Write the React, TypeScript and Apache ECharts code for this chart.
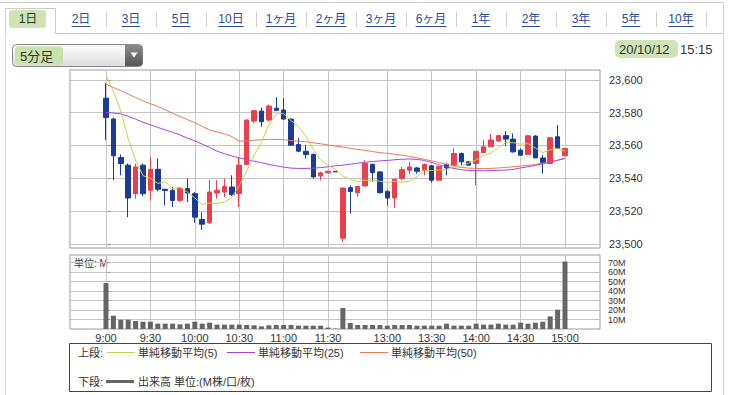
import React, { useEffect, useRef } from 'react';
import * as echarts from 'echarts';

// ---------- data ----------
const xTickIdx = [0, 6, 12, 18, 24, 30, 38, 44, 50, 56, 62];
const xTickLabels = ['9:00', '9:30', '10:00', '10:30', '11:00', '11:30', '13:00', '13:30', '14:00', '14:30', '15:00'];

const opens = [
  23588.8, 23576.1, 23552.7, 23548.0, 23530.6, 23548.0, 23532.7, 23545.5, 23533.3, 23532.7,
  23526.5, 23533.7, 23530.6, 23514.9, 23512.9, 23531.0, 23531.6, 23534.7, 23530.6, 23548.4,
  23574.9, 23581.0, 23575.5, 23582.7, 23581.6, 23576.1, 23560.6, 23556.5, 23554.5, 23541.4,
  23543.3, 23544.2, 23503.5, 23534.3, 23531.2, 23535.3, 23548.4, 23543.9, 23532.0, 23528.0,
  23539.8, 23544.9, 23546.3, 23544.9, 23547.6, 23538.8, 23548.4, 23548.0, 23555.1, 23550.0,
  23549.0, 23555.7, 23559.2, 23562.7, 23566.0, 23563.9, 23557.1, 23554.5, 23565.7, 23552.4,
  23549.0, 23565.3, 23553.7,
];
const closes = [
  23577.0, 23553.7, 23549.0, 23528.0, 23546.9, 23530.6, 23545.5, 23533.3, 23532.5, 23526.5,
  23534.0, 23531.0, 23516.3, 23512.0, 23531.6, 23532.7, 23535.0, 23530.0, 23548.0, 23575.5,
  23581.2, 23574.5, 23584.0, 23581.4, 23576.1, 23560.2, 23556.5, 23554.5, 23540.8, 23543.3,
  23544.3, 23543.9, 23534.1, 23532.0, 23535.1, 23549.0, 23543.5, 23531.2, 23528.0, 23539.4,
  23545.3, 23546.9, 23544.3, 23548.4, 23538.8, 23547.3, 23546.3, 23555.1, 23550.0, 23548.0,
  23556.5, 23559.2, 23563.3, 23566.0, 23563.9, 23556.1, 23554.1, 23565.9, 23552.4, 23549.6,
  23564.7, 23558.2, 23558.2,
];
const lows = [
  23563.3, 23538.8, 23541.8, 23516.3, 23527.6, 23529.0, 23526.5, 23532.0, 23523.5, 23522.4,
  23525.5, 23525.5, 23512.9, 23508.6, 23512.2, 23527.6, 23528.6, 23529.2, 23522.4, 23548.0,
  23573.5, 23571.4, 23574.5, 23581.2, 23575.5, 23560.0, 23556.1, 23552.0, 23539.8, 23538.8,
  23543.0, 23543.9, 23501.0, 23518.4, 23528.6, 23535.3, 23537.8, 23530.6, 23523.5, 23521.8,
  23538.8, 23542.6, 23542.8, 23541.8, 23537.3, 23538.8, 23541.8, 23548.0, 23548.0, 23547.6,
  23535.7, 23555.7, 23559.2, 23562.2, 23559.8, 23555.7, 23553.7, 23554.5, 23552.4, 23542.9,
  23549.0, 23557.8, 23553.7,
];
const highs = [
  23598.0, 23577.0, 23554.5, 23549.0, 23549.0, 23549.0, 23553.0, 23552.0, 23533.6, 23534.7,
  23534.7, 23539.8, 23531.6, 23519.4, 23538.8, 23538.8, 23539.8, 23541.8, 23553.0, 23576.0,
  23581.6, 23583.0, 23585.0, 23589.4, 23588.8, 23576.5, 23564.7, 23560.2, 23555.1, 23543.9,
  23544.5, 23544.2, 23534.1, 23535.7, 23535.1, 23551.0, 23549.0, 23544.3, 23532.7, 23539.8,
  23547.0, 23550.0, 23547.0, 23549.0, 23548.0, 23547.3, 23549.0, 23558.2, 23555.7, 23550.4,
  23556.5, 23563.3, 23567.0, 23566.3, 23568.8, 23567.3, 23558.2, 23566.3, 23566.3, 23554.1,
  23564.7, 23572.4, 23558.2,
];
const sma5 = [
  23603.0, 23593.0, 23581.0, 23564.0, 23550.9, 23541.6, 23540.0, 23536.9, 23537.8, 23533.7,
  23534.4, 23531.5, 23528.1, 23524.0, 23525.0, 23524.7, 23525.5, 23528.3, 23535.5, 23544.2,
  23553.9, 23561.8, 23572.6, 23579.3, 23579.4, 23575.2, 23571.6, 23565.7, 23557.6, 23551.1,
  23547.9, 23545.4, 23541.3, 23539.5, 23537.9, 23538.8, 23538.7, 23538.2, 23537.4, 23538.2,
  23537.5, 23538.2, 23540.8, 23544.9, 23544.7, 23545.1, 23545.0, 23547.2, 23547.5, 23549.3,
  23551.2, 23553.8, 23555.4, 23558.6, 23561.8, 23561.7, 23560.7, 23561.2, 23558.5, 23555.6,
  23557.3, 23558.2, 23556.6,
];
const sma25 = [
  23580.0, 23579.8, 23579.2, 23577.8, 23576.0, 23574.2, 23572.6, 23571.0, 23569.5, 23568.0,
  23566.4, 23564.5, 23562.8, 23560.8, 23558.8, 23556.5, 23555.0, 23553.6, 23552.4, 23551.4,
  23550.4, 23549.5, 23548.5, 23547.6, 23546.8, 23546.2, 23546.0, 23546.0, 23546.2, 23546.5,
  23547.0, 23547.6, 23548.0, 23548.6, 23549.2, 23549.7, 23550.2, 23550.6, 23550.9, 23551.3,
  23551.6, 23551.8, 23551.5, 23550.9, 23549.6, 23548.2, 23547.0, 23546.0, 23545.2, 23544.8,
  23544.6, 23544.6, 23544.7, 23544.8, 23545.0, 23545.4, 23546.3, 23547.0, 23547.8, 23548.8,
  23549.8, 23551.0, 23552.2,
];
const sma50 = [
  23597.4, 23595.4, 23593.4, 23591.3, 23589.2, 23587.2, 23585.4, 23583.8, 23581.7, 23579.6,
  23577.7, 23575.8, 23573.8, 23571.6, 23569.4, 23568.3, 23567.0, 23565.5, 23562.6, 23562.8,
  23563.2, 23563.5, 23563.7, 23563.7, 23563.5, 23563.0, 23562.6, 23562.3, 23561.6, 23561.0,
  23560.3, 23559.6, 23559.0, 23558.3, 23557.6, 23557.0, 23556.3, 23555.6, 23555.2, 23554.6,
  23554.0, 23553.3, 23552.5, 23551.6, 23550.6, 23549.6, 23548.5, 23547.4, 23546.6, 23546.2,
  23546.0, 23545.9, 23546.0, 23546.3, 23546.6, 23547.0, 23547.4, 23547.9, 23548.5, 23549.2,
  23550.0, 23551.0, 23552.0,
];
const volumes = [
  48.4, 14.0, 9.8, 9.8, 8.4, 7.7, 7.7, 5.6, 5.6, 5.6,
  4.9, 5.6, 7.7, 5.6, 6.7, 4.6, 4.6, 4.6, 4.6, 4.2,
  3.9, 2.8, 3.9, 4.2, 4.2, 4.2, 3.5, 3.5, 3.5, 3.5,
  1.4, 0.4, 22.1, 6.3, 4.2, 4.2, 4.2, 4.2, 3.5, 4.2,
  4.2, 4.2, 3.5, 3.5, 3.5, 3.5, 5.6, 3.5, 3.5, 3.5,
  5.6, 4.6, 4.6, 5.6, 4.6, 4.6, 6.7, 5.6, 6.7, 7.7,
  13.3, 20.4, 71.2,
];
const priceTicks = [23500, 23520, 23540, 23560, 23580, 23600];
const volumeTicks = [10, 20, 30, 40, 50, 60, 70];
const tabLabels = ['1日', '2日', '3日', '5日', '10日', '1ヶ月', '2ヶ月', '3ヶ月', '6ヶ月', '1年', '2年', '3年', '5年', '10年'];

// ---------- styling ----------
const FONT = "'Liberation Sans', 'Noto Sans CJK JP', sans-serif";
const RED = '#e8404f';
const BLUE = '#1b3c95';
const C5 = '#c4d44c';
const C25 = '#a444e4';
const C50 = '#ea7a5c';
const GRIDC = '#c6c6c6';
const XMIN = -4.86;
const XMAX = 66.73;

function measure(t: string, size: number): number {
  const c = document.createElement('canvas').getContext('2d');
  if (!c) return t.length * size * 0.8;
  c.font = `${size}px ${FONT}`;
  return c.measureText(t).width;
}

function buildGraphics(): any[] {
  const g: any[] = [];
  const line = (x1: number, y1: number, x2: number, y2: number, stroke: string, lw = 1) =>
    g.push({ type: 'line', silent: true, shape: { x1, y1, x2, y2 }, style: { stroke, lineWidth: lw } });
  const text = (t: string, x: number, y: number, size: number, fill: string, align = 'left') =>
    g.push({
      type: 'text', silent: true, x, y,
      style: { text: t, fontSize: size, fontFamily: FONT, fill, align, verticalAlign: 'middle' },
    });

  // frame
  line(0, 2.5, 723.5, 2.5, '#cccccc');
  line(723.5, 2, 723.5, 395, '#d4d4d4');
  g.push({
    type: 'polyline', silent: true,
    shape: { points: [[5.5, 34], [5.5, 8.5], [55.5, 8.5], [55.5, 33.5]] },
    style: { stroke: '#cccccc', fill: 'none', lineWidth: 1 },
  });
  line(55.5, 33.5, 723.5, 33.5, '#cccccc');
  line(5.5, 33.5, 5.5, 395, '#e0e0e0');

  // tabs
  g.push({ type: 'rect', silent: true, shape: { x: 9, y: 10, width: 37, height: 18, r: 3 }, style: { fill: '#cfe4b4' } });
  tabLabels.forEach((t, i) => {
    const cx = i === 0 ? 28 : 31 + 50 * i;
    const col = i === 0 ? '#333333' : '#2c4c9c';
    text(t, cx, 19, 12, col, 'center');
    if (i > 0) {
      const w = measure(t, 12);
      line(cx - w / 2, 26.5, cx + w / 2, 26.5, col, 1);
      line(56.5 + 50 * i, 12, 56.5 + 50 * i, 27, '#d0d0d0');
    }
  });

  // dropdown
  g.push({
    type: 'rect', silent: true,
    shape: { x: 12.5, y: 44.5, width: 130, height: 22, r: 4 },
    style: {
      fill: new echarts.graphic.LinearGradient(0, 0, 0, 1, [
        { offset: 0, color: '#ffffff' }, { offset: 1, color: '#dcdcdc' },
      ]),
      stroke: '#8a8a8a', lineWidth: 1,
    },
  });
  g.push({ type: 'rect', silent: true, shape: { x: 15, y: 46.5, width: 48, height: 18, r: 3 }, style: { fill: '#c9e1aa' } });
  text('5分足', 20, 56, 13, '#333333');
  g.push({
    type: 'rect', silent: true,
    shape: { x: 125, y: 45, width: 17.5, height: 21, r: [0, 3.5, 3.5, 0] },
    style: {
      fill: new echarts.graphic.LinearGradient(0, 0, 0, 1, [
        { offset: 0, color: '#8c8c8c' }, { offset: 1, color: '#555555' },
      ]),
    },
  });
  g.push({
    type: 'polygon', silent: true,
    shape: { points: [[130.5, 52.5], [137.5, 52.5], [134, 57.5]] },
    style: { fill: '#ffffff' },
  });

  // date
  g.push({ type: 'rect', silent: true, shape: { x: 615, y: 40, width: 63, height: 18, r: 5 }, style: { fill: '#cfe4b4' } });
  text('20/10/12', 619, 49, 13, '#333333');
  text('15:15', 680, 49, 13, '#333333');

  // volume unit
  text('単位: M', 74, 263.5, 10, '#333333');

  // legend
  g.push({
    type: 'rect', silent: true,
    shape: { x: 69.5, y: 343.5, width: 642, height: 48 },
    style: { fill: 'none', stroke: '#444444', lineWidth: 1 },
  });
  text('上段:', 78, 352.5, 11, '#333333');
  line(107, 352.5, 135, 352.5, C5, 1);
  text('単純移動平均(5)', 138, 352.5, 11, '#333333');
  line(227, 352.5, 255, 352.5, C25, 1);
  text('単純移動平均(25)', 258, 352.5, 11, '#333333');
  line(360, 352.5, 388, 352.5, C50, 1);
  text('単純移動平均(50)', 391, 352.5, 11, '#333333');
  text('下段:', 78, 381.5, 11, '#333333');
  line(106, 381.5, 134, 381.5, '#666666', 3);
  text('出来高 単位:(M株/口/枚)', 138, 381.5, 11, '#333333');
  return g;
}

function buildOption(): any {
  const labelMap: Record<number, string> = {};
  xTickIdx.forEach((v, i) => { labelMap[v] = xTickLabels[i]; });
  const vLines = (xi: number, yi: number) => ({
    type: 'line', xAxisIndex: xi, yAxisIndex: yi, data: [], silent: true, z: 1,
    markLine: {
      silent: true, symbol: ['none', 'none'], z: 1, animation: false,
      label: { show: false },
      lineStyle: { color: GRIDC, type: 'solid', width: 1 },
      emphasis: { disabled: true },
      data: xTickIdx.map((v) => ({ xAxis: v })),
    },
  });
  const lineSeries = (data: number[], color: string) => ({
    type: 'line', xAxisIndex: 0, yAxisIndex: 0, z: 4, silent: true,
    data: data.map((v, i) => [i, v]), showSymbol: false, symbol: 'none',
    lineStyle: { color, width: 1 }, itemStyle: { color },
  });
  return {
    animation: false,
    textStyle: { fontFamily: FONT },
    graphic: buildGraphics(),
    grid: [
      { left: 70, top: 70, width: 530, height: 178, show: true, borderColor: '#9a9a9a', borderWidth: 1 },
      { left: 70, top: 255, width: 530, height: 74, show: true, borderColor: '#9a9a9a', borderWidth: 1 },
    ],
    xAxis: [
      {
        type: 'value', gridIndex: 0, min: XMIN, max: XMAX,
        axisLine: { show: false }, axisTick: { show: false }, axisLabel: { show: false }, splitLine: { show: false },
      },
      {
        type: 'value', gridIndex: 1, min: XMIN, max: XMAX,
        axisLine: { show: false }, axisTick: { show: false }, splitLine: { show: false },
        axisLabel: {
          show: true, customValues: xTickIdx, hideOverlap: false, showMinLabel: true, showMaxLabel: true,
          formatter: (v: number) => labelMap[Math.round(v * 1000) / 1000] ?? '',
          fontSize: 11, color: '#333333', margin: 3, fontFamily: FONT,
        },
      },
    ],
    yAxis: [
      {
        type: 'value', gridIndex: 0, position: 'right', min: 23497.5, max: 23606,
        minInterval: 20, maxInterval: 20, splitNumber: 5,
        axisLine: { show: false },
        axisTick: { show: true, length: 5, customValues: priceTicks, lineStyle: { color: '#9a9a9a' } },
        axisLabel: {
          customValues: priceTicks, showMinLabel: true, showMaxLabel: true,
          formatter: (v: number) => (Math.abs(v % 20) < 1e-6 ? v.toLocaleString('en-US') : ''),
          fontSize: 11, color: '#333333', margin: 9, fontFamily: FONT,
        },
        splitLine: { show: true, lineStyle: { color: GRIDC, width: 1 } },
      },
      {
        type: 'value', gridIndex: 1, position: 'right', min: 0, max: 78,
        minInterval: 10, maxInterval: 10,
        axisLine: { show: false },
        axisTick: { show: true, length: 4, customValues: volumeTicks, lineStyle: { color: '#9a9a9a' } },
        axisLabel: {
          customValues: volumeTicks, showMinLabel: true, showMaxLabel: true, hideOverlap: false,
          formatter: (v: number) => (v > 0 && v <= 70 && Math.abs(v % 10) < 1e-6 ? `${v}M` : ''),
          fontSize: 9, lineHeight: 9, color: '#333333', margin: 8, fontFamily: FONT,
        },
        splitLine: { show: true, lineStyle: { color: GRIDC, width: 1 } },
      },
    ],
    series: [
      vLines(0, 0),
      vLines(1, 1),
      {
        type: 'candlestick', xAxisIndex: 0, yAxisIndex: 0, z: 3, silent: true,
        barWidth: 5,
        data: opens.map((o, i) => [i, o, closes[i], lows[i], highs[i]]),
        encode: { x: 0, y: [1, 2, 3, 4] },
        itemStyle: { color: RED, color0: BLUE, borderColor: RED, borderColor0: BLUE, borderWidth: 1 },
      },
      lineSeries(sma50, C50),
      lineSeries(sma25, C25),
      lineSeries(sma5, C5),
      {
        type: 'bar', xAxisIndex: 1, yAxisIndex: 1, z: 3, silent: true, barWidth: 5,
        data: volumes.map((v, i) => [i, v]),
        itemStyle: { color: '#666666' },
      },
    ],
  };
}

export default function App() {
  const ref = useRef<HTMLDivElement>(null);
  useEffect(() => {
    if (!ref.current) return;
    const chart = echarts.init(ref.current, undefined, { renderer: 'svg' });
    chart.setOption(buildOption());
    return () => chart.dispose();
  }, []);
  return (
    <div
      ref={ref}
      style={{ position: 'fixed', left: 0, top: 0, width: 734, height: 395, background: '#ffffff' }}
    />
  );
}
